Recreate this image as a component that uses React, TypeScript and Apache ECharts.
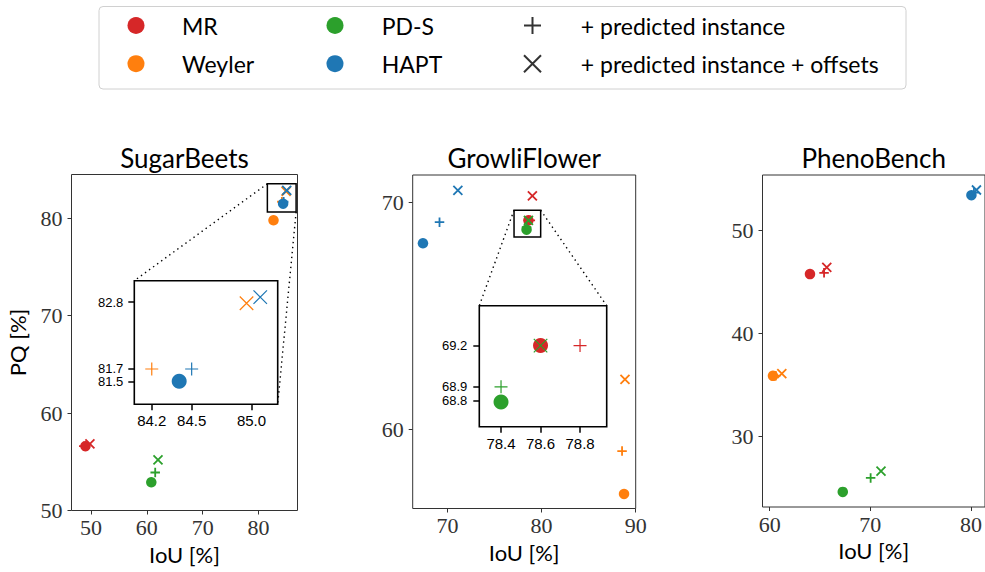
import React, { useEffect, useRef } from "react";
import * as echarts from "echarts";

const METHODS = ["MR", "Weyler", "PD-S", "HAPT"];
const COLORS = ["#d62728", "#ff7f0e", "#2ca02c", "#1f77b4"];
const MARK_NAMES = ["+ predicted instance", "+ predicted instance + offsets"];
const TITLES = ["SugarBeets", "GrowliFlower", "PhenoBench"];
const X_NAME = "IoU [%]";
const Y_NAME = "PQ [%]";

// [IoU, PQ] per method, order: MR, Weyler, PD-S, HAPT
const SB_BASE = [[49.0, 56.6], [82.7, 79.8], [60.8, 52.9], [84.42, 81.5]];
const SB_PLUS = [[48.7, 56.6], [84.2, 81.7], [61.5, 53.9], [84.52, 81.7]];
const SB_CROSS = [[49.8, 56.85], [84.96, 82.78], [62.0, 55.2], [85.07, 82.88]];

const GF_BASE = [[78.6, 69.2], [88.76, 57.14], [78.4, 68.79], [67.39, 68.19]];
const GF_PLUS = [[78.8, 69.2], [88.55, 59.03], [78.4, 68.9], [69.15, 69.12]];
const GF_CROSS = [[79.02, 70.28], [88.86, 62.19], [78.6, 69.2], [71.1, 70.52]];

const PB_BASE = [[64.0, 45.78], [60.32, 35.88], [67.26, 24.59], [80.05, 53.45]];
const PB_PLUS = [[65.4, 45.9], [60.6, 35.9], [70.03, 25.95], [80.3, 53.7]];
const PB_CROSS = [[65.67, 46.44], [61.2, 36.1], [71.06, 26.6], [80.55, 53.96]];

// axis ranges and ticks
const SB_XR = [46.5, 87.0], SB_YR = [50, 84.5];
const GF_XR = [66.3, 90.0], GF_YR = [56.5, 71.2];
const PB_XR = [59.28, 81.4], PB_YR = [23.12, 55.42];
const SBI_XR = [84.06, 85.21], SBI_YR = [81.12, 83.15];
const GFI_XR = [78.29, 78.935], GFI_YR = [68.61, 69.49];

const SB_XT = [50, 60, 70, 80], SB_YT = [50, 60, 70, 80];
const GF_XT = [70, 80, 90], GF_YT = [60, 70];
const PB_XT = [60, 70, 80], PB_YT = [30, 40, 50];
// inset ticks sit at the plotted values and are printed with one decimal
const SBI_XT = [84.2, 84.52, 85.0], SBI_YT = [81.49, 81.71, 82.8];
const GFI_XT = [78.4, 78.6, 78.8], GFI_YT = [68.8, 68.9, 69.2];

// zoom boxes drawn in the main panels: [[x0, y0], [x1, y1]]
const SB_BOX = [[81.6, 80.65], [86.75, 83.55]];
const GF_BOX = [[77.07, 68.47], [79.9, 69.65]];

const PLUS = "path://M0,5L10,5M5,0L5,10";
const CROSS = "path://M0,0L10,10M0,10L10,0";
const SANS = "Lato, 'Noto Sans', sans-serif";
const SERIF = "'Liberation Serif', 'DejaVu Serif', serif";
const HELV = "'Liberation Sans', Arial, sans-serif";

function mainAxis(g: number, r: number[], ticks: number[], extra: any, margin: number) {
  return {
    type: "value",
    gridIndex: g,
    min: r[0],
    max: r[1],
    axisLine: { show: false },
    splitLine: { show: false },
    axisTick: { show: true, customValues: ticks, length: 4, lineStyle: { color: "#333", width: 1 } },
    axisLabel: { customValues: ticks, fontFamily: SERIF, fontSize: 22, color: "#333", margin, hideOverlap: false },
    ...extra,
  };
}

function insetAxis(g: number, r: number[], ticks: number[], labels: number[], margin: number, showTicks = true, font = 15) {
  return {
    type: "value",
    gridIndex: g,
    min: r[0],
    max: r[1],
    axisLine: { show: false },
    splitLine: { show: false },
    axisTick: { show: showTicks, customValues: ticks, length: 6, lineStyle: { color: "#000", width: 1.5 } },
    axisLabel: {
      customValues: labels,
      fontFamily: HELV,
      fontSize: font,
      lineHeight: font,
      color: "#000",
      margin,
      hideOverlap: false,
      formatter: (v: number) => v.toFixed(1),
    },
  };
}

export default function App() {
  const ref = useRef<HTMLDivElement>(null);

  useEffect(() => {
    if (!ref.current) return;
    const chart = echarts.init(ref.current, null, { renderer: "svg" });

    const series: any[] = [];
    const firstSeries: number[] = [];
    const addPanel = (g: number, base: number[][], plus: number[][], cross: number[][], s: any, box?: number[][]) => {
      firstSeries[g] = series.length;
      METHODS.forEach((m, i) => {
        const c: any = {
          type: "scatter", name: m, xAxisIndex: g, yAxisIndex: g, data: [base[i]], clip: true, silent: true,
          symbol: "circle", symbolSize: s.c, itemStyle: { color: COLORS[i], opacity: 1 },
        };
        if (i === 0 && box) {
          c.markArea = {
            silent: true,
            itemStyle: { color: "rgba(0,0,0,0)", borderColor: "#000", borderWidth: 1.5 },
            data: [[{ coord: box[0] }, { coord: box[1] }]],
          };
        }
        series.push(c);
        series.push({
          type: "scatter", name: m + " plus", xAxisIndex: g, yAxisIndex: g, data: [plus[i]], clip: true, silent: true,
          symbol: PLUS, symbolSize: s.p, itemStyle: { color: "none", borderColor: COLORS[i], borderWidth: s.w, opacity: 1 },
        });
        series.push({
          type: "scatter", name: m + " cross", xAxisIndex: g, yAxisIndex: g, data: [cross[i]], clip: true, silent: true,
          symbol: CROSS, symbolSize: s.x, itemStyle: { color: "none", borderColor: COLORS[i], borderWidth: s.w, opacity: 1 },
        });
      });
    };
    const mainSize = { c: 10.5, p: 9.5, x: 9, w: 1.8 };
    const insetSize = { c: 15, p: 13, x: 13.5, w: 1.2 };
    addPanel(0, SB_BASE, SB_PLUS, SB_CROSS, mainSize, SB_BOX);
    addPanel(1, GF_BASE, GF_PLUS, GF_CROSS, mainSize, GF_BOX);
    addPanel(2, PB_BASE, PB_PLUS, PB_CROSS, mainSize);
    addPanel(3, SB_BASE, SB_PLUS, SB_CROSS, insetSize);
    addPanel(4, GF_BASE, GF_PLUS, GF_CROSS, insetSize);
    // legend-only series for marker types
    series.push({
      type: "scatter", name: MARK_NAMES[0], xAxisIndex: 0, yAxisIndex: 0, data: [],
      symbol: PLUS, itemStyle: { color: "none", borderColor: "#333", borderWidth: 1, opacity: 1 },
    });
    series.push({
      type: "scatter", name: MARK_NAMES[1], xAxisIndex: 0, yAxisIndex: 0, data: [],
      symbol: CROSS, itemStyle: { color: "none", borderColor: "#333", borderWidth: 1, opacity: 1 },
    });

    const legendText = { fontFamily: SANS, fontSize: 23, color: "#000" };
    const legendBase = {
      orient: "vertical", top: 14, itemHeight: 17, itemGap: 15.2, selectedMode: false,
      textStyle: legendText, padding: 0,
    };

    const xName = { name: X_NAME, nameLocation: "middle", nameGap: 32, nameTextStyle: { fontFamily: SANS, fontSize: 22, color: "#000" } };

    const option: any = {
      animation: false,
      backgroundColor: "#fff",
      legend: [
        { ...legendBase, left: 127.5, itemWidth: 82, data: [METHODS[0], METHODS[1]] },
        { ...legendBase, left: 326.5, itemWidth: 83.4, data: [METHODS[2], METHODS[3]] },
        { ...legendBase, left: 521.5, itemWidth: 86.6, data: MARK_NAMES },
      ],
      grid: [
        { left: 71.5, top: 174.5, width: 226, height: 336, show: true, borderColor: "#333", borderWidth: 1, backgroundColor: "#fff" },
        { left: 412.7, top: 175, width: 223, height: 333.5, show: true, borderColor: "#333", borderWidth: 1, backgroundColor: "#fff" },
        { left: 762.5, top: 175, width: 224, height: 332, show: true, borderColor: "#333", borderWidth: 1, backgroundColor: "#fff" },
        { left: 134.3, top: 280.7, width: 143.4, height: 123.6, show: true, borderColor: "#000", borderWidth: 1.6, backgroundColor: "#fff" },
        { left: 479.3, top: 305.7, width: 127.4, height: 121, show: true, borderColor: "#000", borderWidth: 1.6, backgroundColor: "#fff" },
      ],
      xAxis: [
        mainAxis(0, SB_XR, SB_XT, xName, 6),
        mainAxis(1, GF_XR, GF_XT, xName, 6),
        mainAxis(2, PB_XR, PB_XT, xName, 6),
        insetAxis(3, SBI_XR, SBI_XT, SBI_XT, 9),
        insetAxis(4, GFI_XR, GFI_XT, GFI_XT, 9),
      ],
      yAxis: [
        mainAxis(0, SB_YR, SB_YT, {
          name: Y_NAME, nameLocation: "middle", nameRotate: 90, nameGap: 43,
          nameTextStyle: { fontFamily: SANS, fontSize: 22, color: "#000" },
        }, 9),
        mainAxis(1, GF_YR, GF_YT, {}, 9),
        mainAxis(2, PB_YR, PB_YT, {}, 9),
        insetAxis(3, SBI_YR, SBI_YT, SBI_YT.slice(1), 11, true, 13),
        insetAxis(4, GFI_YR, GFI_YT, GFI_YT.slice(1), 12, true, 13),
        // companion axes carrying the lowest inset label, so close labels are not dropped
        { ...insetAxis(3, SBI_YR, [], SBI_YT.slice(0, 1), 11, false, 13), position: "left" },
        { ...insetAxis(4, GFI_YR, [], GFI_YT.slice(0, 1), 12, false, 13), position: "left" },
      ],
      series,
    };
    chart.setOption(option);

    const px = (g: number, p: number[]) => chart.convertToPixel({ seriesIndex: firstSeries[g] }, p) as number[];
    const dotted = (a: number[], b: number[]) => ({
      type: "line", z: 20, silent: true,
      shape: { x1: a[0], y1: a[1], x2: b[0], y2: b[1] },
      style: { stroke: "#000", lineWidth: 1.4, lineDash: [1.4, 3.6] },
    });
    const titleCenters = [px(0, [(SB_XR[0] + SB_XR[1]) / 2, SB_YR[1]]), px(1, [(GF_XR[0] + GF_XR[1]) / 2, GF_YR[1]]), px(2, [(PB_XR[0] + PB_XR[1]) / 2, PB_YR[1]])];

    const graphic: any[] = [
      {
        type: "rect", z: 0, silent: true,
        shape: { x: 99, y: 6.5, width: 807, height: 82.5, r: 4 },
        style: { fill: "#fff", stroke: "#d0d0d0", lineWidth: 1 },
      },
      ...TITLES.map((t, i) => ({
        type: "text", x: titleCenters[i][0], y: 158, silent: true,
        style: { text: t, fontFamily: SANS, fontSize: 26, fill: "#000", align: "center", verticalAlign: "middle" },
      })),
      // SugarBeets: box upper-left -> inset upper-left, box lower-right -> inset lower-right
      dotted(px(0, [SB_BOX[0][0], SB_BOX[1][1]]), px(3, [SBI_XR[0], SBI_YR[1]])),
      dotted(px(0, [SB_BOX[1][0], SB_BOX[0][1]]), px(3, [SBI_XR[1], SBI_YR[0]])),
      // GrowliFlower: box upper-left -> inset upper-left, box upper-right -> inset upper-right
      dotted(px(1, [GF_BOX[0][0], GF_BOX[1][1]]), px(4, [GFI_XR[0], GFI_YR[1]])),
      dotted(px(1, [GF_BOX[1][0], GF_BOX[1][1]]), px(4, [GFI_XR[1], GFI_YR[1]])),
    ];
    chart.setOption({ graphic });

    return () => chart.dispose();
  }, []);

  return (
    <div
      ref={ref}
      style={{ position: "fixed", left: 0, top: 0, width: 985, height: 572, background: "#fff" }}
    />
  );
}
